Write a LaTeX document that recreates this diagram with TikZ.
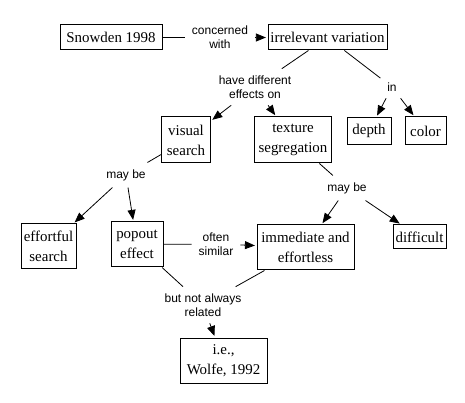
\documentclass[tikz,border=0pt]{standalone}
\usepackage{fontspec}
\setmainfont{Liberation Serif}
\newfontfamily\lblfont{Liberation Sans}
\usetikzlibrary{arrows.meta}
\begin{document}
\begin{tikzpicture}[x=0.75pt,y=-0.75pt,
  concept/.style={draw=black,line width=0.75pt,inner sep=0pt,align=center,
    font=\fontsize{11.2}{15}\selectfont},
  link/.style={inner sep=5pt,align=center,font=\lblfont\fontsize{9}{10.5}\selectfont},
  plain/.style={draw=black,line width=0.6pt},
  arr/.style={draw=black,line width=0.6pt,-{Triangle[length=7.5pt,width=6pt]},shorten >=1.2pt}]
\useasboundingbox (0,0) rectangle (465,403);
% concepts
\node[concept,minimum width=102*0.75pt,minimum height=25*0.75pt] (snow) at (111,37.5) {Snowden 1998};
\node[concept,minimum width=119*0.75pt,minimum height=25*0.75pt] (iv) at (327.5,37.5) {irrelevant variation};
\node[concept,minimum width=49*0.75pt,minimum height=46*0.75pt] (vs) at (186,140) {visual\\search};
\node[concept,minimum width=77*0.75pt,minimum height=46*0.75pt] (ts) at (293,140) {texture\\segregation};
\node[concept,minimum width=44*0.75pt,minimum height=27*0.75pt] (depth) at (369,131) {depth};
\node[concept,minimum width=41*0.75pt,minimum height=28*0.75pt] (color) at (425.5,131) {color};
\node[concept,minimum width=55*0.75pt,minimum height=45*0.75pt] (es) at (48.5,246.5) {effortful\\search};
\node[concept,minimum width=52*0.75pt,minimum height=45*0.75pt] (pe) at (137,244.5) {popout\\effect};
\node[concept,minimum width=97*0.75pt,minimum height=45*0.75pt] (imm) at (305.5,247.5) {immediate and\\effortless};
\node[concept,minimum width=53*0.75pt,minimum height=24*0.75pt] (diff) at (419.5,237) {difficult};
\node[concept,minimum width=87*0.75pt,minimum height=45*0.75pt] (wolfe) at (223.5,360.5) {i.e.,\\Wolfe, 1992};
% link labels
\node[link] (cw) at (220,37.5) {concerned\\with};
\node[link] (hdeo) at (255,87) {have different\\effects on};
\node[link] (in) at (392,87) {in};
\node[link] (mb1) at (126,175) {may be};
\node[link] (mb2) at (347,188) {may be};
\node[link] (os) at (216,244) {often\\similar};
\node[link] (bnar) at (203,305) {but not always\\related};
% connectors
\draw[plain] (snow) -- (cw);
\draw[arr] (cw) -- (iv);
\draw[plain] (iv) -- (hdeo);
\draw[arr] (hdeo) -- (vs);
\draw[arr] (hdeo) -- (ts);
\draw[plain] (iv) -- (in);
\draw[arr] (in) -- (depth);
\draw[arr] (in) -- (color);
\draw[plain] (vs) -- (mb1);
\draw[arr] (mb1) -- (es);
\draw[arr] (mb1) -- (pe);
\draw[plain] (ts) -- (mb2);
\draw[arr] (mb2) -- (imm);
\draw[arr] (mb2) -- (diff);
\draw[plain] (pe) -- (os);
\draw[arr] (os) -- (imm);
\draw[plain] (pe) -- (bnar);
\draw[plain] (imm) -- (bnar);
\draw[arr] (bnar) -- (wolfe);
\end{tikzpicture}
\end{document}
